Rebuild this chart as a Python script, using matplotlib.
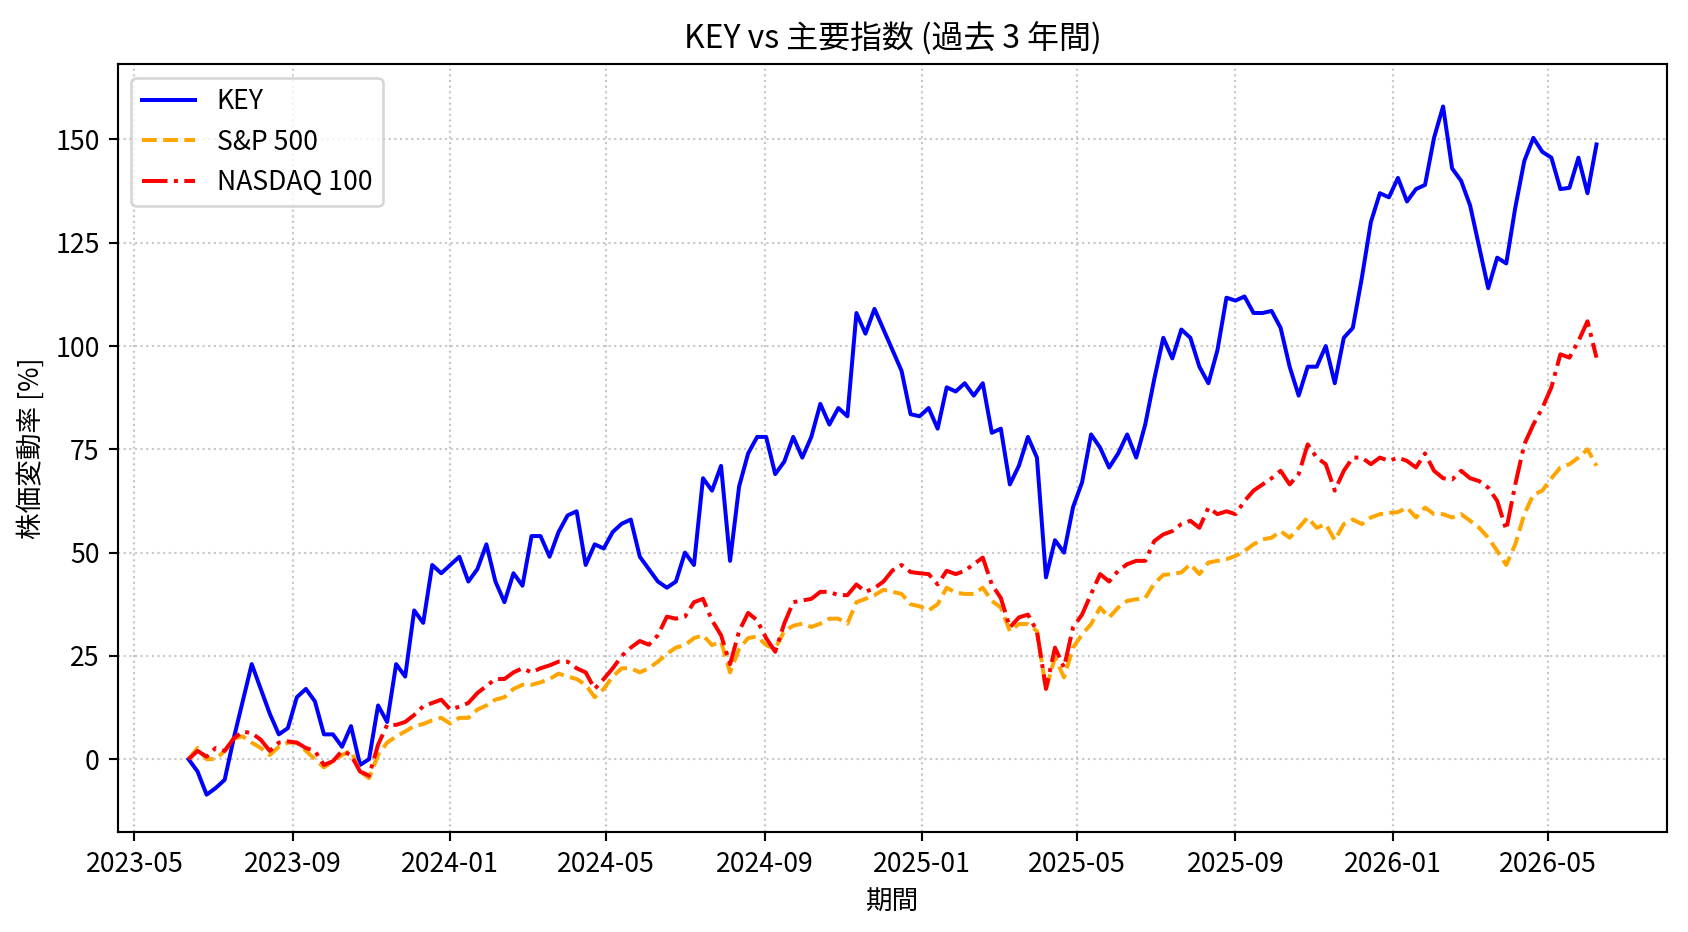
import matplotlib
matplotlib.use("Agg")
import matplotlib.pyplot as plt
import matplotlib.dates as mdates
import pandas as pd

plt.rcParams['font.family'] = ['Liberation Sans Narrow', 'Noto Sans CJK JP', 'DejaVu Sans']

start_date = '2023-06-12'
n_weeks = 157

key = [0, -3, -8.6, -7, -5, 5, 14, 23, 17, 11, 6, 7.5, 15, 17, 14, 6, 6, 3, 8, -1.4,
       0, 13, 9, 23, 20, 36, 33, 47, 45, 47, 49, 43, 46, 52, 43, 38, 45, 42, 54, 54,
       49, 55, 59, 60, 47, 52, 51, 55, 57, 58, 49, 46, 43, 41.5, 43, 50, 47, 68, 65, 71,
       48, 66, 74, 78, 78, 69, 72, 78, 73, 78, 86, 81, 85, 83, 108, 103, 109, 104, 99, 94,
       83.5, 83, 85, 80, 90, 89, 91, 88, 91, 79, 80, 66.5, 71, 78, 73, 44, 53, 50, 61, 67,
       78.6, 75.4, 70.6, 74, 78.6, 73, 81, 92, 102, 97, 104, 102, 95, 91, 99, 111.7, 111, 112, 108, 108,
       108.5, 104.4, 95, 88, 95, 95, 100, 91, 102, 104.4, 116.5, 130, 137, 136, 140.7, 135, 138, 139, 150.4, 158,
       143, 140, 134, 124, 114, 121.4, 120, 133.5, 144.8, 150.4, 147, 145.6, 138, 138.3, 145.6, 137, 148.8]

sp500 = [0, 2.7, 0, 0, 2, 5, 5.5, 4, 2.7, 1, 3, 4, 4, 2, 0, -2, -0.5, 1, 2, -3,
         -4.6, 1, 4, 5.5, 6.7, 8, 8.5, 9.4, 10, 8.6, 10, 10, 12, 13, 14.4, 15, 17, 18, 18, 18.6,
         19.4, 20.7, 20, 19.4, 18, 15, 17, 20, 22, 22, 21, 22, 23.6, 25.5, 27, 27.6, 29.3, 30, 27.6, 28.5,
         21, 26.7, 29.3, 29.7, 27.6, 26.7, 31, 32.3, 32.8, 32, 32.8, 34, 34, 32.8, 38, 38.8, 39.7, 41, 40.5, 40,
         37.5, 37, 36, 37.5, 41.5, 40.3, 40, 40, 41.5, 38.3, 36.7, 31, 32.7, 32.7, 31, 17, 24.6, 19.8, 27, 30.2,
         32.7, 36.7, 34.3, 36.7, 38.3, 38.7, 39, 42.5, 44.6, 44.8, 45.2, 47.2, 44.8, 47.6, 48, 48.4, 49.2, 50.4, 52, 53.2,
         53.6, 55.2, 53.6, 56, 58.5, 56, 56.9, 53, 56.9, 58, 56.9, 58.5, 59.3, 59.6, 59.8, 60.9, 58.5, 60.9, 59.3, 59.3,
         58.5, 59.3, 57.7, 56, 53.6, 50.4, 47, 52, 59.3, 64, 65, 68, 70.6, 71.4, 73, 75, 71]

nasdaq100 = [0, 2, 0.6, 2.7, 2, 5, 6.7, 6.3, 4.7, 2, 4, 4.3, 4, 2.7, 2, -1.4, -0.5, 2, 1, -3,
             -4, 3.5, 8.3, 8.3, 9, 10.7, 12.8, 13.6, 14.4, 12, 12.7, 13.6, 16, 17.7, 19.4, 19.4, 21, 22, 21, 22,
             22.7, 23.6, 23.6, 22, 21, 17, 19.4, 22, 25, 27, 28.6, 27.7, 30, 34.5, 34, 34.5, 38, 38.8, 33.6, 30,
             23, 31, 35.4, 33.6, 29.3, 26, 32.8, 38, 38.4, 38.8, 40.5, 40.5, 39.7, 39.7, 42.3, 40.5, 41.4, 43, 45.7, 47,
             45.3, 45, 44.8, 42.3, 45.6, 44.8, 45.6, 47.2, 48.8, 42.3, 39, 31.9, 34.3, 35, 31, 17, 27, 22.2, 31.9, 35,
             40, 44.8, 43, 45.6, 47.2, 48, 48, 52.8, 54.4, 55.2, 56.9, 57.7, 56, 60.9, 59.3, 60, 59.3, 62.5, 65, 66.5,
             68, 69.8, 66.5, 69, 76.2, 73, 71.4, 65, 69.8, 73, 73, 71.4, 73, 72.2, 73, 72.2, 70.6, 74, 69.8, 68,
             67.7, 69.8, 68, 67.3, 65.7, 62.5, 55.5, 66.5, 76.2, 81, 85, 90, 98, 97.2, 101.2, 106, 97.2]

dates = pd.date_range(start_date, periods=n_weeks, freq='7D')

DPI = 191.5
fig = plt.figure(figsize=(1688 / DPI, 932 / DPI), dpi=DPI)
ax = fig.add_axes([0.070, 0.107, 0.9175, 0.824])

ax.plot(dates, key, color='blue', linestyle='-', linewidth=1.5, label='KEY')
ax.plot(dates, sp500, color='orange', linestyle='--', linewidth=1.5, label='S&P 500')
ax.plot(dates, nasdaq100, color='red', linestyle='-.', linewidth=1.5, label='NASDAQ 100')

ax.set_ylim(-17.7, 168.2)
ax.set_yticks([0, 25, 50, 75, 100, 125, 150])
ax.xaxis.set_major_locator(mdates.MonthLocator(bymonth=[1, 5, 9]))
ax.xaxis.set_major_formatter(mdates.DateFormatter('%Y-%m'))

ax.grid(True, linestyle=':', alpha=0.7)
ax.set_title('KEY vs 主要指数 (過去 3 年間)', fontsize=12)
ax.set_xlabel('期間', fontsize=10)
ax.set_ylabel('株価変動率 [%]', fontsize=10)
ax.legend(loc='upper left', fontsize=10)

fig.savefig('out.png', dpi=DPI)
